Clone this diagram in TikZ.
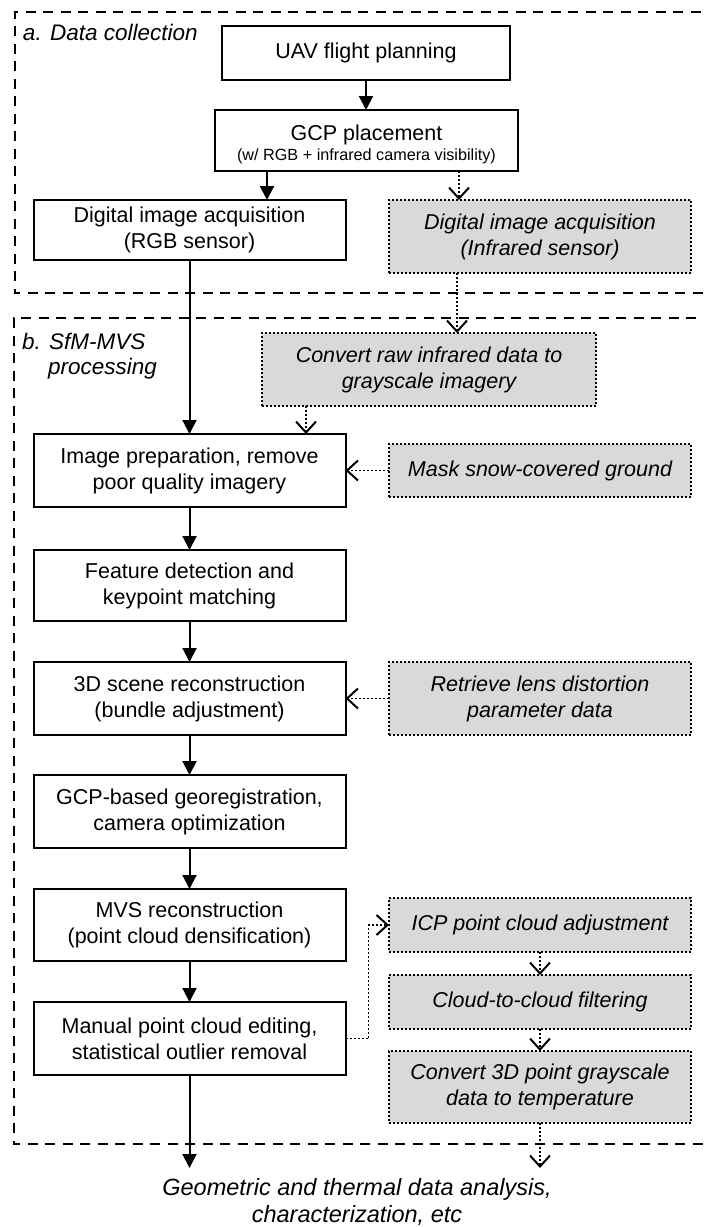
\documentclass[tikz,border=0pt]{standalone}
\usepackage{fontspec}
\setmainfont{Liberation Sans}
\usetikzlibrary{arrows.meta,calc}
\definecolor{boxgray}{HTML}{D9D9D9}
\begin{document}
\begin{tikzpicture}[x=1pt,y=-1pt,
  every node/.style={inner sep=0pt, outer sep=0pt},
  procbox/.style={font=\fontsize{21.5}{26}\selectfont, draw=black, line width=2pt, fill=white, align=center, minimum width=312pt, minimum height=73pt},
  graybox/.style={font=\fontsize{21.5}{26}\selectfont\itshape, draw=black, line width=1.8pt, dash pattern=on 2pt off 2pt, fill=boxgray, align=center, minimum width=302pt, minimum height=73pt},
  frame/.style={draw=black, line width=2pt, dash pattern=on 10pt off 7.5pt},
  arr/.style={draw=black, line width=2pt, -{Triangle[length=14pt,width=14pt]}},
  dotarr/.style={draw=black, line width=1.8pt, dash pattern=on 2pt off 2pt, -{Straight Barb[length=11pt,width=20pt,line width=2pt]}},
  lbl/.style={font=\fontsize{22.5}{27}\selectfont\itshape},
  outlbl/.style={font=\fontsize{23.5}{27}\selectfont\itshape}
]
\fill[white] (0,0) rectangle (704,1227);
\clip (0,0) rectangle (704,1227);

% frames
\draw[frame] (720,293) -- (14.5,293) -- (14.5,12) -- (720,12);
\draw[frame] (720,1144) -- (13.5,1144) -- (13.5,318) -- (720,318);

% labels
\node[lbl, anchor=base west] (la) at (23,40) {a. Data collection};
\node[lbl, anchor=base west] (lb1) at (22,349) {b. SfM-MVS};
\node[lbl, anchor=base west] (lb2) at (48,374) {processing};

% nodes
\node[procbox, minimum width=288pt, minimum height=54pt] (uav) at (366,53) {UAV flight planning};
\node[procbox, minimum width=303pt, minimum height=61pt] (gcp) at (366.5,140.5) {\raisebox{0pt}[24pt]{GCP placement}\\[-6pt]{\fontsize{16.2}{18}\selectfont (w/ RGB + infrared camera visibility)}};
\node[procbox, minimum height=60pt] (rgb) at (189.5,230) {Digital image acquisition\\(RGB sensor)};
\node[graybox] (ir) at (540,236.5) {Digital image acquisition\\(Infrared sensor)};
\node[graybox, minimum width=334pt] (raw) at (429,369.5) {Convert raw infrared data to\\grayscale imagery};
\node[procbox] (prep) at (189.5,470.5) {Image preparation, remove\\poor quality imagery};
\node[graybox, minimum height=53pt] (mask) at (540,470.5) {Mask snow-covered ground};
\node[procbox, minimum height=71pt] (feat) at (189.5,585.5) {Feature detection and\\keypoint matching};
\node[procbox] (scene) at (189.5,698.5) {3D scene reconstruction\\(bundle adjustment)};
\node[graybox] (lens) at (540,698.5) {Retrieve lens distortion\\parameter data};
\node[procbox] (geo) at (189.5,811.5) {GCP-based georegistration,\\camera optimization};
\node[procbox, minimum height=72pt] (mvs) at (189.5,925) {MVS reconstruction\\(point cloud densification)};
\node[procbox] (edit) at (189.5,1038.5) {Manual point cloud editing,\\statistical outlier removal};
\node[graybox, minimum height=54pt] (icp) at (540,925) {ICP point cloud adjustment};
\node[graybox, minimum height=54pt] (c2c) at (540,1002) {Cloud-to-cloud filtering};
\node[graybox, minimum height=72pt] (temp) at (540,1087) {Convert 3D point grayscale\\data to temperature};
\node[outlbl, align=center] (out) at (357,1202) {Geometric and thermal data analysis,\\characterization, etc};

\coordinate (endL) at (189.5,1168);
\coordinate (endR) at (540,1168);

% connectors
\draw[arr] (uav.south) -- (uav.south |- gcp.north);
\draw[arr] ([xshift=-99.5]gcp.south) -- ([xshift=-99.5]gcp.south |- rgb.north);
\draw[dotarr] ([xshift=92.5]gcp.south) -- ([xshift=92.5]gcp.south |- ir.north);
\draw[arr] (rgb) -- (prep);
\draw[dotarr] ([xshift=-83]ir.south) -- ([xshift=-83]ir.south |- raw.north);
\draw[dotarr] ([xshift=-123]raw.south) -- ([xshift=-123]raw.south |- prep.north);
\draw[dotarr] (mask) -- (prep);
\draw[arr] (prep) -- (feat);
\draw[arr] (feat) -- (scene);
\draw[arr] (scene) -- (geo);
\draw[arr] (geo) -- (mvs);
\draw[arr] (mvs) -- (edit);
\draw[dotarr] (lens) -- (scene);
\draw[dotarr] (edit.east) -- ++(23,0) |- (icp.west);
\draw[dotarr] (icp) -- (c2c);
\draw[dotarr] (c2c) -- (temp);
\draw[arr] (edit) -- (endL);
\draw[dotarr] (temp) -- (endR);
\end{tikzpicture}
\end{document}
